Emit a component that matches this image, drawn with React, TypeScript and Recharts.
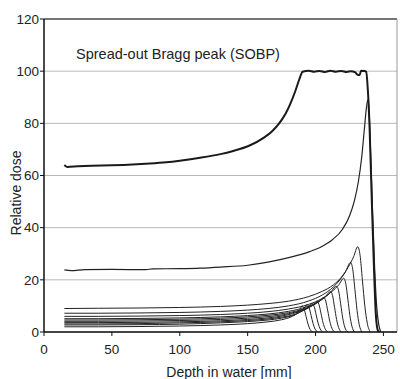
import React from "react";
import { LineChart, Line, XAxis, YAxis, CartesianGrid, ReferenceLine } from "recharts";

type Pt = [number, number];

// tick labels
const depthTicks = [0, 50, 100, 150, 200, 250];
const doseTicks = [0, 20, 40, 60, 80, 100, 120];

// spread-out Bragg peak (sum)
const sobp: Pt[] = [
  [15, 64.0], [17, 63.3], [25, 63.5], [35, 63.7], [50, 63.9], [65, 64.2], [78, 64.6], [90, 65.1],
  [100, 65.7], [115, 66.8], [130, 68.2], [140, 69.5], [151, 71.4], [162, 74.5], [168, 77.0],
  [173.5, 80.2], [178, 83.8], [181, 87.0], [185, 92.2], [188, 96.8], [190.5, 99.8], [195, 100.2],
  [199, 99.8], [203, 100.1], [207, 99.7], [211, 100.2], [215, 99.8], [219, 100.1], [223, 99.7],
  [226, 100.0], [229, 99.6], [231, 98.6], [232.5, 98.5], [233.5, 100.2], [236, 100.1],
  [237.3, 99.8], [238.5, 93], [239.7, 80], [241.4, 51], [243, 25], [244.5, 6], [246, 0.5], [247, 0],
];

// deepest pristine Bragg peak
const pristine: Pt[] = [
  [15, 23.8], [20, 23.5], [30, 23.9], [50, 24.0], [75, 23.9], [80, 24.2], [100, 24.3], [115, 24.5],
  [130, 24.9], [150, 25.6], [165, 26.8], [181, 28.6], [195.6, 30.8], [205, 32.9], [212, 35.2],
  [220, 39.5], [225, 44.5], [228.7, 50.5], [231.5, 57.5], [234, 67], [236, 78], [237.5, 86], [238.5, 89],
  [239.5, 84], [240.5, 70], [242, 46], [243.5, 25], [245, 10], [246.5, 3], [248, 0],
];

// weighted Bragg peaks making up the SOBP
const peak1: Pt[] = [
  [15, 2.0], [40, 2.0], [70, 2.1], [100, 2.3], [130, 2.7], [150, 3.2], [165, 3.9], [175, 4.7],
  [182, 5.8], [186, 7.0], [188.5, 8.6], [190, 10], [191.5, 9], [193, 6], [194.5, 3], [196, 1], [198, 0],
];
const peak2: Pt[] = [
  [15, 2.7], [40, 2.7], [70, 2.8], [100, 3.0], [130, 3.5], [150, 4.0], [165, 4.6], [175, 5.3],
  [183, 6.3], [188, 7.5], [191.5, 9.0], [193.7, 10.5], [195.2, 9.4], [196.7, 6.4], [198.2, 3.2],
  [199.7, 1.1], [201.7, 0],
];
const peak3: Pt[] = [
  [15, 3.1], [40, 3.1], [70, 3.2], [100, 3.5], [130, 3.9], [150, 4.4], [165, 5.0], [175, 5.7],
  [185, 6.8], [191, 8.2], [195, 9.6], [197.4, 11], [198.9, 9.9], [200.4, 6.7], [201.9, 3.4],
  [203.4, 1.2], [205.4, 0],
];
const peak4: Pt[] = [
  [15, 3.6], [40, 3.6], [70, 3.7], [100, 3.9], [130, 4.3], [150, 4.8], [165, 5.4], [178, 6.4],
  [188, 7.8], [195, 9.3], [198.5, 10.5], [201, 11.8], [202.5, 10.6], [204, 7.2], [205.5, 3.6],
  [207, 1.3], [209, 0],
];
const peak5: Pt[] = [
  [15, 4.1], [40, 4.1], [70, 4.2], [100, 4.4], [130, 4.8], [150, 5.3], [165, 5.9], [180, 7.0],
  [190, 8.4], [198, 10.2], [203, 11.8], [206, 13.2], [207.5, 11.9], [209, 8.1], [210.5, 4.1],
  [212, 1.5], [214, 0],
];
const peak6: Pt[] = [
  [15, 4.6], [40, 4.6], [70, 4.7], [100, 4.9], [130, 5.3], [150, 5.8], [165, 6.4], [180, 7.4],
  [192, 9.0], [201, 11.2], [207, 13.4], [211, 15.5], [212.5, 14], [214, 9.5], [215.5, 4.8],
  [217, 1.7], [219, 0],
];
const peak7: Pt[] = [
  [15, 5.1], [40, 5.1], [70, 5.2], [100, 5.4], [130, 5.8], [150, 6.3], [165, 6.9], [180, 7.9],
  [193, 9.6], [203, 11.9], [210, 14.6], [215.5, 17.5], [217, 15.8], [218.5, 10.8], [220, 5.4],
  [221.5, 1.9], [223.7, 0],
];
const peak8: Pt[] = [
  [15, 6.0], [40, 6.0], [70, 6.1], [100, 6.3], [130, 6.7], [150, 7.2], [165, 7.8], [180, 8.8],
  [195, 10.6], [205, 12.9], [212, 15.5], [217, 18.0], [220.8, 20.6], [222.3, 18.5], [223.8, 12.6],
  [225.3, 6.3], [226.8, 2.2], [228.6, 0],
];
const peak9: Pt[] = [
  [15, 7.2], [40, 7.2], [70, 7.3], [100, 7.5], [130, 7.9], [150, 8.4], [165, 9.0], [180, 10.0],
  [195, 11.9], [205, 14.2], [213, 17.2], [218, 20.0], [222, 23.0], [225.8, 26.7], [227.4, 24],
  [229, 16.3], [230.6, 8.2], [232.2, 2.8], [234.2, 0],
];
const peak10: Pt[] = [
  [15, 9.0], [40, 9.1], [70, 9.2], [100, 9.4], [130, 9.8], [150, 10.3], [165, 10.9], [180, 11.8],
  [195, 13.6], [205, 15.6], [213, 18.0], [219, 21.0], [224, 24.8], [228, 28.8], [231.1, 32.7],
  [232.8, 29.4], [234.5, 20], [236.3, 10], [238.1, 3.4], [240.3, 0],
];

const peaks = [peak1, peak2, peak3, peak4, peak5, peak6, peak7, peak8, peak9, peak10];

const toRows = (pts: Pt[]) => pts.map(([x, y]) => ({ x, y }));

const font = "'Liberation Sans', Arial, Helvetica, sans-serif";
const tickStyle = { fill: "#222", fontSize: 13.5, fontFamily: font };

export default function App() {
  return (
    <div style={{ position: "absolute", left: 0, top: 0, width: 400, height: 379, background: "#fff", fontFamily: font }}>
      <LineChart width={400} height={379} margin={{ top: 19, right: 3, left: 0, bottom: 17 }}>
        <CartesianGrid vertical={false} stroke="#b8b8b8" />
        <XAxis
          dataKey="x"
          type="number"
          domain={[0, 260]}
          ticks={depthTicks}
          allowDataOverflow
          height={30}
          tickSize={4}
          tickMargin={8}
          tick={tickStyle}
          axisLine={{ stroke: "#111", strokeWidth: 1.5 }}
          tickLine={{ stroke: "#111" }}
        />
        <YAxis
          type="number"
          domain={[0, 120]}
          ticks={doseTicks}
          allowDataOverflow
          width={44}
          tickSize={4}
          tickMargin={1}
          tick={tickStyle}
          axisLine={{ stroke: "#111", strokeWidth: 1.5 }}
          tickLine={{ stroke: "#111" }}
        />
        <ReferenceLine y={120} stroke="#555" strokeWidth={1.5} />
        <ReferenceLine x={260} stroke="#999" />
        {peaks.map((p, i) => (
          <Line
            key={i}
            data={toRows(p)}
            dataKey="y"
            type="monotone"
            stroke="#222"
            strokeWidth={1}
            dot={false}
            isAnimationActive={false}
          />
        ))}
        <Line data={toRows(pristine)} dataKey="y" type="monotone" stroke="#222" strokeWidth={1.2} dot={false} isAnimationActive={false} />
        <Line data={toRows(sobp)} dataKey="y" type="monotone" stroke="#1a1a1a" strokeWidth={2} dot={false} isAnimationActive={false} />
      </LineChart>
      <div style={{ position: "absolute", left: 76, top: 47, fontSize: 14.5, lineHeight: 1, color: "#222", whiteSpace: "nowrap" }}>
        Spread-out Bragg peak (SOBP)
      </div>
      <div style={{ position: "absolute", left: 229, top: 365, transform: "translateX(-50%)", fontSize: 14, lineHeight: 1, color: "#222", whiteSpace: "nowrap" }}>
        Depth in water [mm]
      </div>
      <div style={{ position: "absolute", left: 16, top: 193, transform: "translate(-50%, -50%) rotate(-90deg)", fontSize: 14, lineHeight: 1, color: "#222", whiteSpace: "nowrap" }}>
        Relative dose
      </div>
    </div>
  );
}
